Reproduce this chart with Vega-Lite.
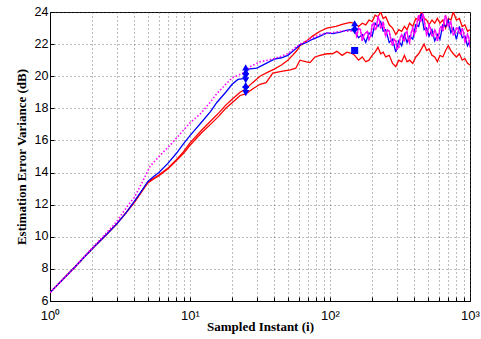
{
  "$schema": "https://vega.github.io/schema/vega-lite/v6.json",
  "width": 420,
  "height": 289,
  "autosize": {"type": "none"},
  "padding": {"left": 50, "top": 12, "right": 11, "bottom": 38},
  "background": "white",
  "config": {
    "view": {"stroke": "black", "strokeWidth": 1},
    "axis": {
      "grid": true,
      "gridColor": "#555",
      "gridDash": [1, 3],
      "gridOpacity": 0.8,
      "domainColor": "black",
      "tickColor": "black",
      "labelFont": "Liberation Sans",
      "labelFontSize": 12,
      "labelColor": "black",
      "labelOverlap": false,
      "labelFlush": false,
      "titleFont": "Liberation Serif",
      "titleFontSize": 13,
      "titleFontWeight": "bold",
      "titleColor": "black"
    }
  },
  "datasets": {
    "lines": [
      {"s":"a","i":1,"v":6.52},{"s":"a","i":1.5,"v":8.1},{"s":"a","i":2,"v":9.25},{"s":"a","i":2.5,"v":10.1},{"s":"a","i":3,"v":10.8},{"s":"a","i":3.5,"v":11.5},{"s":"a","i":4,"v":12.15},{"s":"a","i":4.5,"v":12.8},{"s":"a","i":5,"v":13.4},{"s":"a","i":5.5,"v":13.65},{"s":"a","i":6,"v":13.85},{"s":"a","i":7,"v":14.3},{"s":"a","i":8,"v":14.8},{"s":"a","i":9,"v":15.3},{"s":"a","i":10,"v":15.85},{"s":"a","i":12,"v":16.6},{"s":"a","i":14,"v":17.2},{"s":"a","i":16,"v":17.7},{"s":"a","i":18,"v":18.2},{"s":"a","i":20,"v":18.56},{"s":"a","i":22.8,"v":19.0},{"s":"a","i":25,"v":19.2},{"s":"a","i":28,"v":19.6},{"s":"a","i":31.6,"v":20.0},{"s":"a","i":36,"v":20.25},{"s":"a","i":40,"v":20.44},{"s":"a","i":45,"v":20.7},{"s":"a","i":50,"v":21.0},{"s":"a","i":54,"v":21.3},{"s":"a","i":58,"v":21.6},{"s":"a","i":61,"v":21.9},{"s":"a","i":68,"v":22.2},{"s":"a","i":75,"v":22.5},{"s":"a","i":85,"v":22.8},{"s":"a","i":95,"v":23.0},{"s":"a","i":110,"v":23.1},{"s":"a","i":124,"v":23.25},{"s":"a","i":139,"v":23.35},{"s":"a","i":150,"v":23.3},
      {"s":"a","i":160,"v":23.1},{"s":"a","i":170,"v":23.3},{"s":"a","i":180,"v":23.2},{"s":"a","i":190,"v":23.5},{"s":"a","i":200,"v":23.4},{"s":"a","i":210,"v":23.8},{"s":"a","i":220,"v":23.7},{"s":"a","i":230,"v":24.0},{"s":"a","i":240,"v":23.6},{"s":"a","i":250,"v":23.7},{"s":"a","i":265,"v":23.2},{"s":"a","i":280,"v":23.0},{"s":"a","i":295,"v":22.6},{"s":"a","i":310,"v":22.9},{"s":"a","i":325,"v":22.8},{"s":"a","i":340,"v":23.1},{"s":"a","i":355,"v":22.9},{"s":"a","i":370,"v":23.3},{"s":"a","i":390,"v":23.1},{"s":"a","i":410,"v":23.6},{"s":"a","i":430,"v":23.5},{"s":"a","i":450,"v":24.0},{"s":"a","i":470,"v":23.6},{"s":"a","i":490,"v":23.5},{"s":"a","i":510,"v":23.2},{"s":"a","i":535,"v":23.5},{"s":"a","i":560,"v":23.3},{"s":"a","i":585,"v":23.6},{"s":"a","i":610,"v":23.3},{"s":"a","i":640,"v":23.5},{"s":"a","i":670,"v":23.0},{"s":"a","i":700,"v":23.6},{"s":"a","i":730,"v":23.5},{"s":"a","i":760,"v":24.0},{"s":"a","i":800,"v":23.5},{"s":"a","i":840,"v":23.6},{"s":"a","i":880,"v":23.1},{"s":"a","i":920,"v":23.2},{"s":"a","i":960,"v":22.8},{"s":"a","i":1000,"v":22.9},

      {"s":"b","i":1,"v":6.52},{"s":"b","i":1.5,"v":8.1},{"s":"b","i":2,"v":9.25},{"s":"b","i":2.5,"v":10.1},{"s":"b","i":3,"v":10.8},{"s":"b","i":3.5,"v":11.5},{"s":"b","i":4,"v":12.15},{"s":"b","i":4.5,"v":12.8},{"s":"b","i":5,"v":13.35},{"s":"b","i":5.5,"v":13.6},{"s":"b","i":6,"v":13.8},{"s":"b","i":7,"v":14.25},{"s":"b","i":8,"v":14.75},{"s":"b","i":9,"v":15.2},{"s":"b","i":10,"v":15.7},{"s":"b","i":12,"v":16.45},{"s":"b","i":14,"v":17.0},{"s":"b","i":16,"v":17.5},{"s":"b","i":18,"v":18.0},{"s":"b","i":20,"v":18.35},{"s":"b","i":22.8,"v":18.8},{"s":"b","i":25,"v":18.9},{"s":"b","i":28,"v":19.2},{"s":"b","i":31.6,"v":19.5},{"s":"b","i":35,"v":19.6},{"s":"b","i":39,"v":20.2},{"s":"b","i":45,"v":20.3},{"s":"b","i":52,"v":20.4},{"s":"b","i":57,"v":20.5},{"s":"b","i":61,"v":21.0},{"s":"b","i":68,"v":20.9},{"s":"b","i":72,"v":20.85},{"s":"b","i":78,"v":21.2},{"s":"b","i":85,"v":21.3},{"s":"b","i":95,"v":21.4},{"s":"b","i":104,"v":21.4},{"s":"b","i":112,"v":21.55},{"s":"b","i":122,"v":21.3},{"s":"b","i":132,"v":21.5},{"s":"b","i":145,"v":21.4},{"s":"b","i":150,"v":21.3},
      {"s":"b","i":160,"v":21.0},{"s":"b","i":170,"v":21.2},{"s":"b","i":180,"v":20.9},{"s":"b","i":190,"v":21.0},{"s":"b","i":200,"v":21.3},{"s":"b","i":210,"v":21.5},{"s":"b","i":220,"v":21.8},{"s":"b","i":230,"v":21.4},{"s":"b","i":240,"v":21.5},{"s":"b","i":250,"v":21.2},{"s":"b","i":265,"v":21.3},{"s":"b","i":280,"v":20.8},{"s":"b","i":295,"v":20.6},{"s":"b","i":310,"v":21.0},{"s":"b","i":325,"v":20.9},{"s":"b","i":340,"v":21.3},{"s":"b","i":355,"v":20.9},{"s":"b","i":370,"v":21.0},{"s":"b","i":390,"v":20.8},{"s":"b","i":410,"v":21.2},{"s":"b","i":430,"v":21.4},{"s":"b","i":450,"v":21.7},{"s":"b","i":470,"v":22.0},{"s":"b","i":490,"v":21.6},{"s":"b","i":510,"v":21.7},{"s":"b","i":535,"v":21.3},{"s":"b","i":560,"v":21.2},{"s":"b","i":585,"v":20.9},{"s":"b","i":610,"v":21.3},{"s":"b","i":640,"v":21.2},{"s":"b","i":670,"v":21.6},{"s":"b","i":700,"v":21.9},{"s":"b","i":730,"v":21.6},{"s":"b","i":760,"v":21.4},{"s":"b","i":800,"v":21.2},{"s":"b","i":840,"v":21.4},{"s":"b","i":880,"v":21.0},{"s":"b","i":920,"v":21.1},{"s":"b","i":960,"v":20.8},{"s":"b","i":1000,"v":20.7},

      {"s":"c","i":1,"v":6.52},{"s":"c","i":1.5,"v":8.1},{"s":"c","i":2,"v":9.25},{"s":"c","i":2.5,"v":10.1},{"s":"c","i":3,"v":10.8},{"s":"c","i":3.5,"v":11.5},{"s":"c","i":4,"v":12.2},{"s":"c","i":4.5,"v":12.85},{"s":"c","i":5,"v":13.45},{"s":"c","i":5.5,"v":13.75},{"s":"c","i":6,"v":14.0},{"s":"c","i":7,"v":14.6},{"s":"c","i":8,"v":15.2},{"s":"c","i":9,"v":15.8},{"s":"c","i":10,"v":16.3},{"s":"c","i":12,"v":17.1},{"s":"c","i":14,"v":17.8},{"s":"c","i":15.5,"v":18.35},{"s":"c","i":18,"v":19.0},{"s":"c","i":20,"v":19.5},{"s":"c","i":22,"v":19.8},{"s":"c","i":24,"v":19.85},{"s":"c","i":25,"v":20.2},{"s":"c","i":26,"v":20.45},{"s":"c","i":30,"v":20.5},{"s":"c","i":35,"v":20.8},{"s":"c","i":40,"v":21.06},{"s":"c","i":45,"v":21.15},{"s":"c","i":50,"v":21.3},{"s":"c","i":55,"v":21.6},{"s":"c","i":61,"v":21.95},{"s":"c","i":68,"v":22.1},{"s":"c","i":75,"v":22.3},{"s":"c","i":85,"v":22.5},{"s":"c","i":95,"v":22.7},{"s":"c","i":105,"v":22.65},{"s":"c","i":118,"v":22.75},{"s":"c","i":130,"v":22.85},{"s":"c","i":139,"v":22.9},{"s":"c","i":150,"v":22.8},
      {"s":"c","i":160,"v":22.4},{"s":"c","i":170,"v":22.6},{"s":"c","i":180,"v":22.1},{"s":"c","i":190,"v":22.7},{"s":"c","i":200,"v":22.5},{"s":"c","i":210,"v":23.3},{"s":"c","i":220,"v":23.1},{"s":"c","i":230,"v":23.4},{"s":"c","i":240,"v":22.8},{"s":"c","i":250,"v":22.9},{"s":"c","i":265,"v":22.1},{"s":"c","i":280,"v":22.3},{"s":"c","i":295,"v":21.5},{"s":"c","i":310,"v":22.2},{"s":"c","i":325,"v":21.9},{"s":"c","i":340,"v":22.6},{"s":"c","i":355,"v":22.1},{"s":"c","i":370,"v":22.5},{"s":"c","i":390,"v":22.3},{"s":"c","i":410,"v":23.2},{"s":"c","i":430,"v":23.1},{"s":"c","i":450,"v":23.9},{"s":"c","i":470,"v":22.9},{"s":"c","i":490,"v":23.0},{"s":"c","i":510,"v":22.5},{"s":"c","i":535,"v":22.9},{"s":"c","i":560,"v":22.2},{"s":"c","i":585,"v":22.6},{"s":"c","i":610,"v":22.3},{"s":"c","i":640,"v":23.2},{"s":"c","i":670,"v":23.1},{"s":"c","i":700,"v":23.5},{"s":"c","i":730,"v":22.7},{"s":"c","i":760,"v":23.0},{"s":"c","i":800,"v":22.3},{"s":"c","i":840,"v":23.1},{"s":"c","i":880,"v":22.4},{"s":"c","i":920,"v":22.5},{"s":"c","i":960,"v":21.9},{"s":"c","i":1000,"v":22.2}
    ],
    "mag": [
      {"i":1,"v":6.52},{"i":1.5,"v":8.1},{"i":2,"v":9.3},{"i":2.5,"v":10.2},{"i":3,"v":10.95},{"i":3.5,"v":11.8},{"i":4,"v":12.45},{"i":4.5,"v":13.3},{"i":5.2,"v":14.4},{"i":6,"v":15.0},{"i":7.2,"v":15.7},{"i":8.5,"v":16.4},{"i":10,"v":17.1},{"i":12,"v":17.7},{"i":14,"v":18.4},{"i":15.5,"v":18.9},{"i":18,"v":19.5},{"i":20,"v":19.9},{"i":24,"v":20.2},{"i":27,"v":20.6},{"i":31.6,"v":20.9},{"i":36,"v":21.0},{"i":40,"v":21.1},{"i":45,"v":21.25},{"i":50,"v":21.4},{"i":55,"v":21.7},{"i":61,"v":22.0},{"i":68,"v":22.2},{"i":75,"v":22.4},{"i":85,"v":22.6},{"i":100,"v":22.7},{"i":120,"v":22.8},{"i":139,"v":22.8},{"i":150,"v":22.9},
      {"i":155,"v":22.5},{"i":160,"v":23.0},{"i":165,"v":22.9},{"i":170,"v":22.2},{"i":175,"v":22.6},{"i":180,"v":22.7},{"i":185,"v":22.8},{"i":190,"v":22.3},{"i":195,"v":22.5},{"i":200,"v":23.2},{"i":205,"v":23.3},{"i":210,"v":22.9},{"i":215,"v":23.0},{"i":220,"v":23.75},{"i":225,"v":23.5},{"i":230,"v":23.0},{"i":235,"v":23.1},{"i":240,"v":23.4},{"i":245,"v":22.8},{"i":250,"v":22.5},{"i":257,"v":22.9},{"i":265,"v":22.8},{"i":272,"v":22.3},{"i":280,"v":21.9},{"i":287,"v":22.3},{"i":295,"v":22.2},{"i":302,"v":21.7},{"i":310,"v":21.8},{"i":317,"v":22.4},{"i":325,"v":22.6},{"i":332,"v":22.3},{"i":340,"v":22.2},{"i":347,"v":22.7},{"i":355,"v":22.8},{"i":362,"v":22.3},{"i":370,"v":22.1},{"i":380,"v":22.7},{"i":390,"v":23.0},{"i":400,"v":22.6},{"i":410,"v":22.8},{"i":420,"v":23.4},{"i":430,"v":23.8},{"i":440,"v":23.4},{"i":450,"v":23.5},{"i":460,"v":23.9},{"i":470,"v":23.6},{"i":480,"v":23.0},{"i":490,"v":22.6},{"i":500,"v":22.8},{"i":510,"v":23.2},{"i":522,"v":23.0},{"i":535,"v":22.5},{"i":547,"v":22.5},{"i":560,"v":22.9},{"i":572,"v":22.7},{"i":585,"v":22.2},{"i":597,"v":22.5},{"i":610,"v":23.0},{"i":625,"v":23.1},{"i":640,"v":22.8},{"i":655,"v":23.5},{"i":670,"v":23.8},{"i":685,"v":23.3},{"i":700,"v":23.1},{"i":715,"v":23.3},{"i":730,"v":23.4},{"i":745,"v":22.9},{"i":760,"v":22.6},{"i":780,"v":22.7},{"i":800,"v":23.0},{"i":820,"v":23.0},{"i":840,"v":22.7},{"i":860,"v":22.6},{"i":880,"v":23.0},{"i":900,"v":22.7},{"i":920,"v":22.1},{"i":940,"v":22.3},{"i":960,"v":22.6},{"i":980,"v":22.4},{"i":1000,"v":21.8}
    ],
    "marks": [
      {"i":25,"v":20.55,"sh":"triangle-up"},{"i":25,"v":20.3,"sh":"triangle-up"},{"i":25,"v":20.0,"sh":"triangle-down"},{"i":25,"v":19.75,"sh":"triangle-down"},
      {"i":25,"v":19.45,"sh":"triangle-up"},{"i":25,"v":19.2,"sh":"triangle-down"},{"i":25,"v":18.95,"sh":"triangle-down"},
      {"i":150,"v":23.3,"sh":"triangle-up"},{"i":150,"v":23.05,"sh":"triangle-up"},{"i":150,"v":22.8,"sh":"triangle-down"},
      {"i":150,"v":21.6,"sh":"square"}
    ]
  },
  "encoding": {
    "x": {
      "field": "i", "type": "quantitative",
      "scale": {"type": "log", "domain": [1, 1000], "nice": false},
      "axis": {
        "title": "Sampled Instant (i)",
        "values": [1,2,3,4,5,6,7,8,9,10,20,30,40,50,60,70,80,90,100,200,300,400,500,600,700,800,900,1000],
        "labelExpr": "datum.value == 1 ? '10⁰' : datum.value == 10 ? '10¹' : datum.value == 100 ? '10²' : datum.value == 1000 ? '10³' : ''",
        "tickSize": -4,
        "labelPadding": 12,
        "labelFontSize": 13,
        "titlePadding": -2
      }
    },
    "y": {
      "field": "v", "type": "quantitative",
      "scale": {"domain": [6, 24], "nice": false, "zero": false},
      "axis": {
        "title": "Estimation Error Variance (dB)",
        "values": [6,8,10,12,14,16,18,20,22,24],
        "format": "d",
        "tickSize": -4,
        "labelPadding": 6,
        "labelOffset": -1,
        "labelFontSize": 12.5,
        "titlePadding": 6
      }
    }
  },
  "layer": [
    {
      "data": {"name": "lines"},
      "mark": {"type": "line", "strokeWidth": 1.3, "clip": true, "interpolate": "linear"},
      "encoding": {
        "color": {
          "field": "s", "type": "nominal",
          "scale": {"domain": ["a", "b", "c"], "range": ["#ff0000", "#ff0000", "#0000ff"]},
          "legend": null
        }
      }
    },
    {
      "data": {"name": "mag"},
      "mark": {"type": "line", "strokeWidth": 1.6, "color": "#ff00ff", "strokeDash": [1.5, 2], "clip": true},
      "encoding": {}
    },
    {
      "data": {"name": "mag"},
      "transform": [{"filter": "datum.i >= 150"}],
      "mark": {"type": "line", "strokeWidth": 1.2, "color": "#ff00ff", "clip": true},
      "encoding": {}
    },
    {
      "data": {"name": "marks"},
      "mark": {"type": "point", "filled": true, "color": "#0000ff", "opacity": 1, "size": 50},
      "encoding": {
        "shape": {"field": "sh", "type": "nominal", "scale": null}
      }
    }
  ]
}
